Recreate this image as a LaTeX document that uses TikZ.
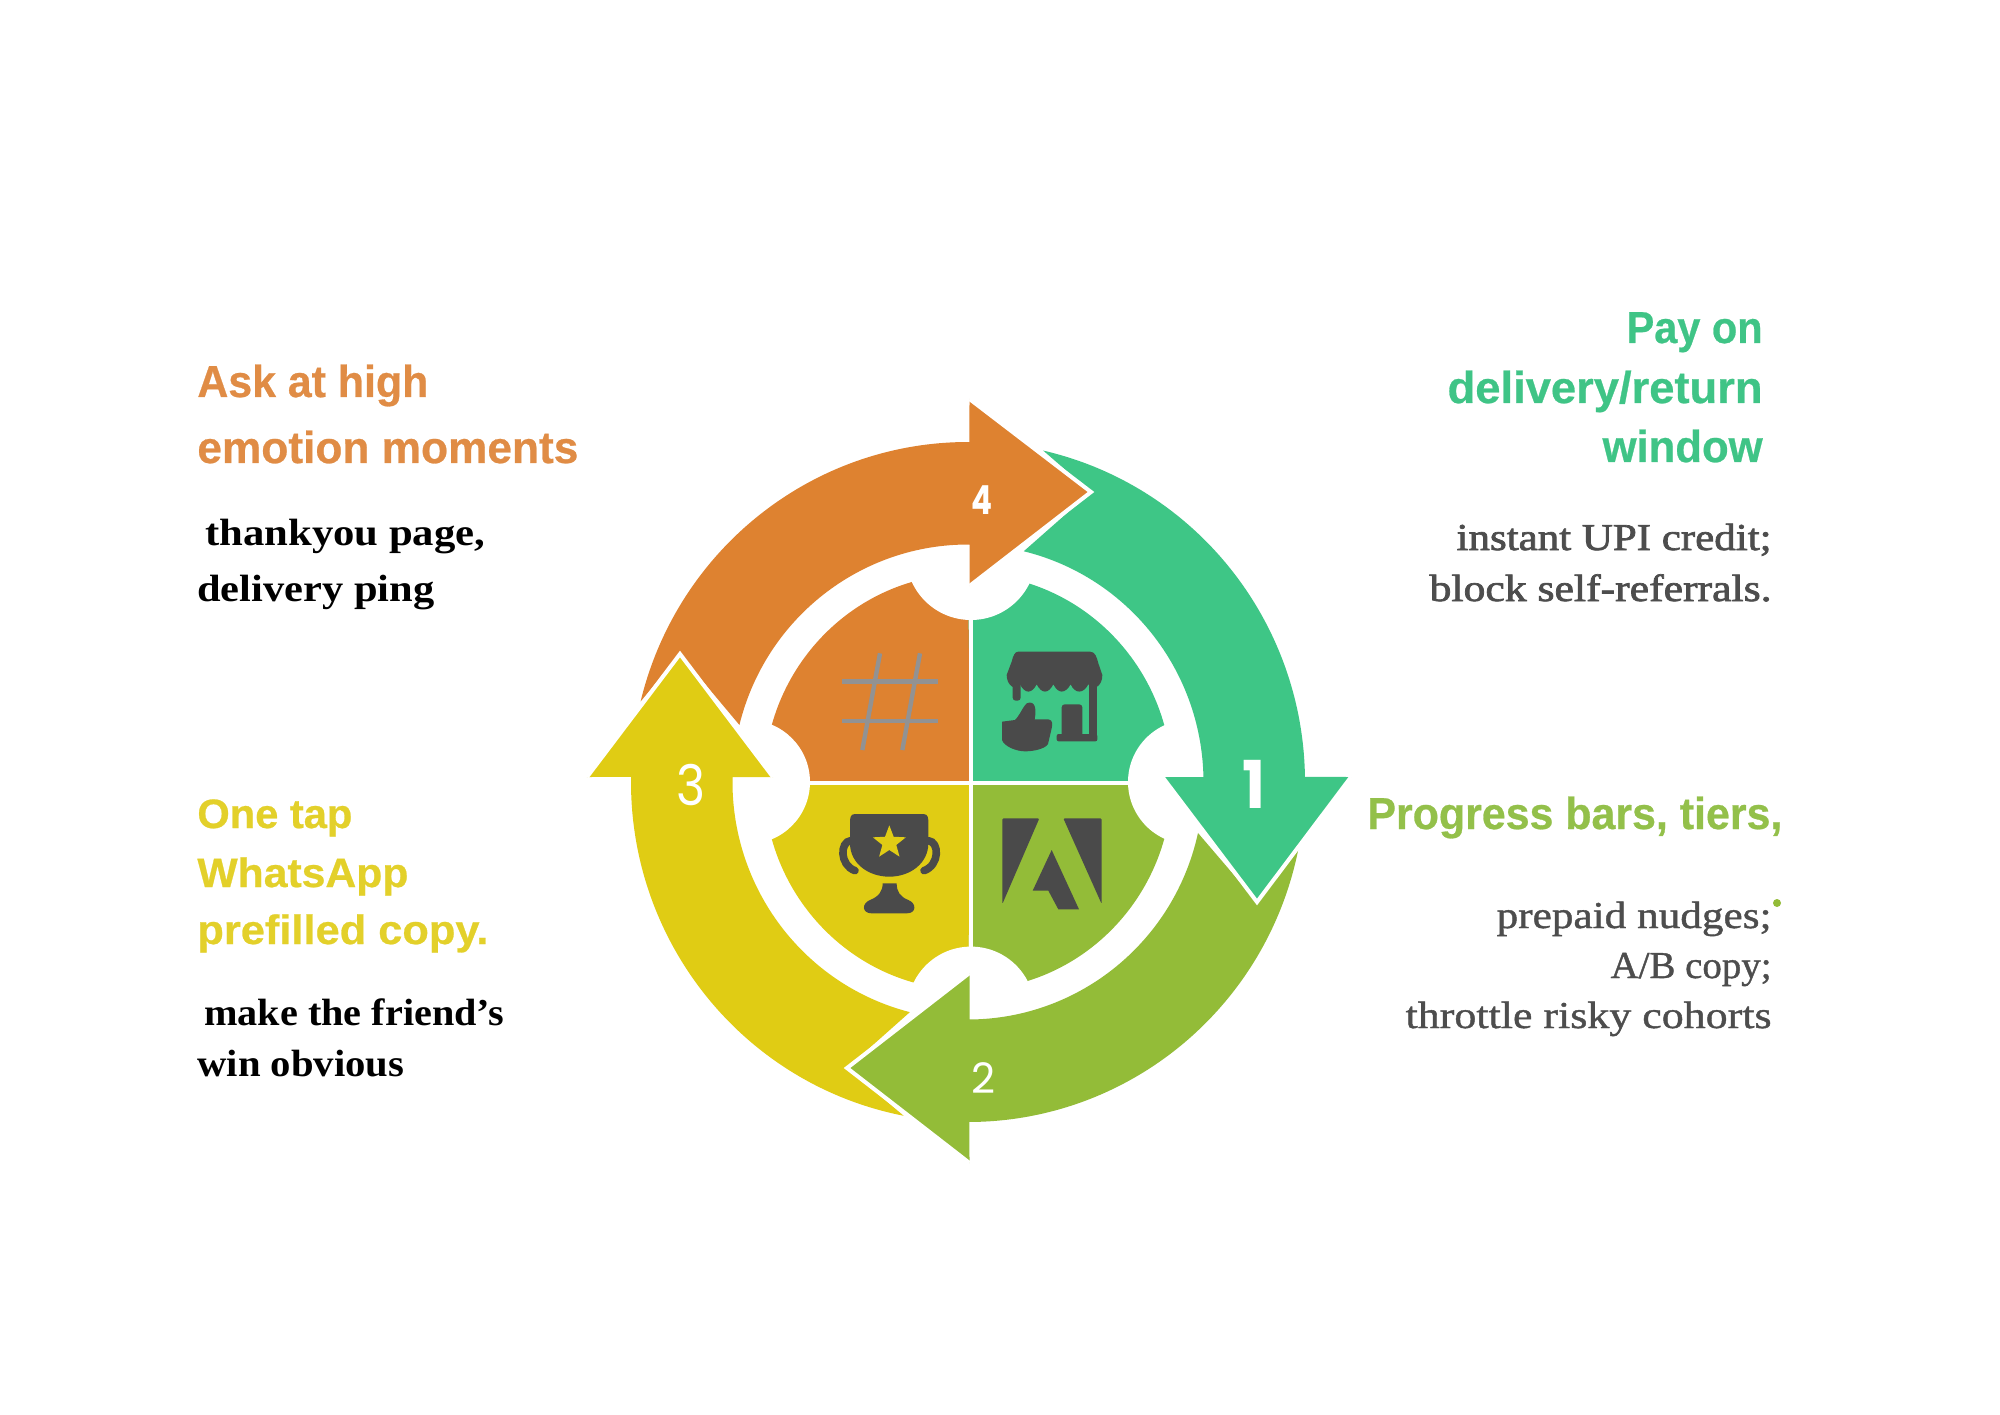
\documentclass[tikz,border=0pt]{standalone}
\usepackage{graphicx}
\usepackage{fontspec}
\setmainfont{Liberation Serif}
\newfontfamily\hdfont[BoldFeatures={FakeBold=0.6}]{Liberation Sans}
\newfontfamily\numfont{Poppins}
\newfontfamily\bodyfont{Liberation Serif}
\newfontfamily\grayfont[FakeBold=1.0]{Liberation Serif}
\newfontfamily\grayfontb[FakeBold=1.8]{Liberation Serif}
\newcommand{\fitw}[2]{\resizebox{\dimexpr #1pt/2\relax}{\height}{#2}}
\definecolor{cOrange}{HTML}{DE8230}
\definecolor{cGreen}{HTML}{3EC686}
\definecolor{cLime}{HTML}{93BC38}
\definecolor{cYellow}{HTML}{E0CC14}
\definecolor{tOrange}{HTML}{E08C45}
\definecolor{tGreen}{HTML}{3FC486}
\definecolor{tLime}{HTML}{93C04A}
\definecolor{tYellow}{HTML}{E3D02A}
\definecolor{cDark}{HTML}{4A4A4A}
\definecolor{cHash}{HTML}{929292}
\definecolor{cBody}{HTML}{4D4D4D}
\tikzset{
  headedge/.style={draw=white,line width=2pt,line join=miter},
  crossline/.style={draw=white,line width=2.25pt},
  notch/.style={fill=white},
  icon/.style={fill=cDark},
  hashline/.style={draw=cHash,line width=2.2pt},
  titleL/.style={inner sep=0pt,anchor=base west,font=\hdfont\bfseries\fontsize{22.4}{26}\selectfont},
  titleR/.style={inner sep=0pt,anchor=base east,font=\hdfont\bfseries\fontsize{22.4}{26}\selectfont},
  titleY/.style={inner sep=0pt,anchor=base west,font=\hdfont\bfseries\fontsize{20.5}{24}\selectfont},
  blackL/.style={inner sep=0pt,anchor=base west,text=black,font=\bodyfont\bfseries\fontsize{19}{22}\selectfont},
  grayR/.style={inner sep=0pt,anchor=base east,text=cBody,font=\grayfontb\fontsize{19}{22}\selectfont},
  grayRl/.style={inner sep=0pt,anchor=base east,text=cBody,font=\grayfont\fontsize{19}{22}\selectfont},
  num/.style={inner sep=0pt,text=white,anchor=center},
}
\begin{document}
\begin{tikzpicture}[x=0.5pt,y=0.5pt]
\useasboundingbox (-968,-632) rectangle (1032,782);
\fill[white] (-968,-632) rectangle (1032,782);

% inner quadrants
\fill[cOrange] (2.8,-1) -- (90:204 and 208) arc[start angle=90,end angle=180,x radius=102pt,y radius=104pt] -- cycle;
\fill[cGreen] (2.8,-1) -- (90:204 and 208) arc[start angle=90,end angle=0,x radius=102pt,y radius=104pt] -- cycle;
\fill[cLime] (2.8,-1) -- (-90:204 and 208) arc[start angle=-90,end angle=0,x radius=102pt,y radius=104pt] -- cycle;
\fill[cYellow] (2.8,-1) -- (-90:204 and 208) arc[start angle=-90,end angle=-180,x radius=102pt,y radius=104pt] -- cycle;
\draw[crossline] (2.8,-215) -- (2.8,215);
\draw[crossline] (-215,-1) -- (215,-1);
\fill[notch] (3,227) circle[radius=32.5pt];
\fill[notch] (3,-228.4) circle[radius=31.9pt];
\fill[notch] (-220,0) circle[radius=31pt];
\fill[notch] (222.4,0) circle[radius=31.2pt];

% ring arrows
\fill[cOrange] (166.3:337 and 340) arc[start angle=166.3,end angle=89.75,x radius=168.5pt,y radius=170pt]
  -- (1.5,383) -- (123,290) -- (1.5,196) -- (89.6:235.5 and 237.5)
  arc[start angle=89.6,end angle=166.1,x radius=117.75pt,y radius=118.75pt] -- (-288,128) -- cycle;
\fill[cGreen] (77.1:337 and 340) arc[start angle=77.1,end angle=0.85,x radius=168.5pt,y radius=170pt]
  -- (383,5) -- (289,-120) -- (194.5,5) -- (1.2:235.5 and 237.5)
  arc[start angle=1.2,end angle=76.3,x radius=117.75pt,y radius=118.75pt] -- (123,290) -- cycle;
\fill[cLime] (-11.6:337 and 340) arc[start angle=-11.6,end angle=-89.75,x radius=168.5pt,y radius=170pt]
  -- (1.5,-381) -- (-121,-286) -- (1.5,-191) -- (-89.6:235.5 and 237.5)
  arc[start angle=-89.6,end angle=-12.4,x radius=117.75pt,y radius=118.75pt] -- (289,-120) -- cycle;
\fill[cYellow] (259:337 and 340) arc[start angle=259,end angle=179.15,x radius=168.5pt,y radius=170pt]
  -- (-381,5) -- (-288,128) -- (-195,5) -- (178.8:235.5 and 237.5)
  arc[start angle=178.8,end angle=255.7,x radius=117.75pt,y radius=118.75pt] -- (-121,-286) -- cycle;
\draw[headedge] (1.5,383) -- (123,290) -- (1.5,196);
\draw[headedge] (383,5) -- (289,-120) -- (194.5,5);
\draw[headedge] (1.5,-381) -- (-121,-286) -- (1.5,-191);
\draw[headedge] (-381,5) -- (-288,128) -- (-195,5);

% icons: coordinates in the 3x crop of the centre
\begin{scope}[shift={(-208,162)},x=0.16667pt,y=-0.16667pt]
  % hash
  \draw[hashline] (245,185) -- (535,185);
  \draw[hashline] (245,303) -- (535,303);
  \draw[hashline] (360,100) -- (307,390);
  \draw[hashline] (480,100) -- (427,390);
  % store
  \fill[icon] (775,95) -- (990,95) .. controls (1005,95) and (1010,110) .. (1015,130) -- (1027,165)
    .. controls (1027,195) and (1005,215) .. (985,193)
    .. controls (970,222) and (945,222) .. (932,193)
    .. controls (915,222) and (895,222) .. (880,193)
    .. controls (865,222) and (845,222) .. (830,193)
    .. controls (815,222) and (795,222) .. (780,193)
    .. controls (765,215) and (740,195) .. (740,165) -- (755,125)
    .. controls (760,105) and (765,95) .. (775,95) -- cycle;
  \fill[icon] (987,185) rectangle (1012,362);
  \fill[icon,rounded corners=1pt] (890,342) rectangle (1012,364);
  \fill[icon,rounded corners=1.5pt] (905,253) rectangle (967,350);
  \fill[icon,rounded corners=1.5pt] (758,185) rectangle (782,242);
  \fill[icon] (726,305) -- (765,300) .. controls (780,285) and (790,258) .. (800,250)
    .. controls (825,240) and (830,265) .. (824,298) -- (865,298)
    .. controls (880,300) and (877,315) .. (875,325) -- (864,372)
    .. controls (855,387) and (820,394) .. (795,394)
    .. controls (770,394) and (733,380) .. (726,360) -- cycle;
  % trophy
  \fill[icon] (285,582) -- (490,582) .. controls (505,582) and (505,595) .. (505,610) -- (505,670)
    .. controls (505,730) and (450,770) .. (388,770)
    .. controls (325,770) and (270,730) .. (270,670) -- (270,610)
    .. controls (270,595) and (270,582) .. (285,582) -- cycle;
  \fill[cYellow] (388,616) -- (400.9,650.2) -- (437.5,652) -- (408.9,674.8) -- (418.6,710)
    -- (388,690) -- (357.4,710) -- (367.1,674.8) -- (338.5,652) -- (375.1,650.2) -- cycle;
  \draw[cDark,line width=3.8pt,line cap=round] (272,662) .. controls (240,665) and (238,735) .. (285,752);
  \draw[cDark,line width=3.8pt,line cap=round] (505,662) .. controls (538,665) and (540,735) .. (492,752);
  \fill[icon] (368,790) -- (410,790) .. controls (410,815) and (420,830) .. (445,840)
    .. controls (470,850) and (470,880) .. (440,880) -- (335,880)
    .. controls (305,880) and (305,850) .. (330,840)
    .. controls (355,830) and (368,815) .. (368,790) -- cycle;
  % adobe
  \fill[icon,rounded corners=0.6pt] (727,595) -- (838,595) -- (727,852) -- cycle;
  \fill[icon,rounded corners=0.6pt] (910,595) -- (1025,595) -- (1025,852) -- cycle;
  \fill[icon] (875,690) -- (957,868) -- (895,868) -- (865,812) -- (818,812) -- cycle;
\end{scope}

% texts: coordinates in image pixels
\begin{scope}[shift={(-968,782)},y=-0.5pt]
  \node[num,font=\numfont\bfseries\fontsize{20}{22}\selectfont] (n4) at (982,500) {\fitw{21}{4}};
  \node[num,font=\numfont\fontsize{33}{36}\selectfont\bfseries] (n1) at (1254,784) {\fitw{23}{1}};
  \node[num,font=\numfont\fontsize{21}{24}\selectfont] (n2) at (983,1078) {\fitw{24}{2}};
  \node[num,font=\numfont\fontsize{28}{30}\selectfont] (n3) at (691,785) {\fitw{29}{3}};

  \node[titleL,text=tOrange] (t4a) at (197,397) {\fitw{231}{Ask at high}};
  \node[titleL,text=tOrange] (t4b) at (197,463) {\fitw{381}{emotion moments}};
  \node[blackL] (b4a) at (205,546) {\fitw{280}{thankyou page,}};
  \node[blackL] (b4b) at (197,601) {\fitw{237}{delivery ping}};

  \node[titleR,text=tGreen] (t1a) at (1763,343) {\fitw{136}{Pay on}};
  \node[titleR,text=tGreen] (t1b) at (1763,403) {\fitw{315}{delivery/return}};
  \node[titleR,text=tGreen] (t1c) at (1763,462) {\fitw{160}{window}};
  \node[grayR] (b1a) at (1772,550) {\fitw{315}{instant UPI credit;}};
  \node[grayR] (b1b) at (1772,601) {\fitw{342}{block self-referrals.}};

  \node[titleL,text=tLime] (t2a) at (1367,829) {\fitw{415}{Progress bars, tiers,}};
  \node[grayRl] (b2a) at (1772,928) {\fitw{275}{prepaid nudges;}};
  \node[grayRl] (b2b) at (1772,978) {\fitw{161}{A/B copy;}};
  \node[grayRl] (b2c) at (1772,1028) {\fitw{366}{throttle risky cohorts}};
  \fill[cLime] (1777,903) circle[radius=2pt];

  \node[titleY,text=tYellow] (t3a) at (197,828) {\fitw{155}{One tap}};
  \node[titleY,text=tYellow] (t3b) at (197,887) {\fitw{211}{WhatsApp}};
  \node[titleY,text=tYellow] (t3c) at (197,944) {\fitw{291}{prefilled copy.}};
  \node[blackL] (b3a) at (204,1025) {\fitw{300}{make the friend’s}};
  \node[blackL] (b3b) at (197,1076) {\fitw{207}{win obvious}};
\end{scope}
\end{tikzpicture}
\end{document}
